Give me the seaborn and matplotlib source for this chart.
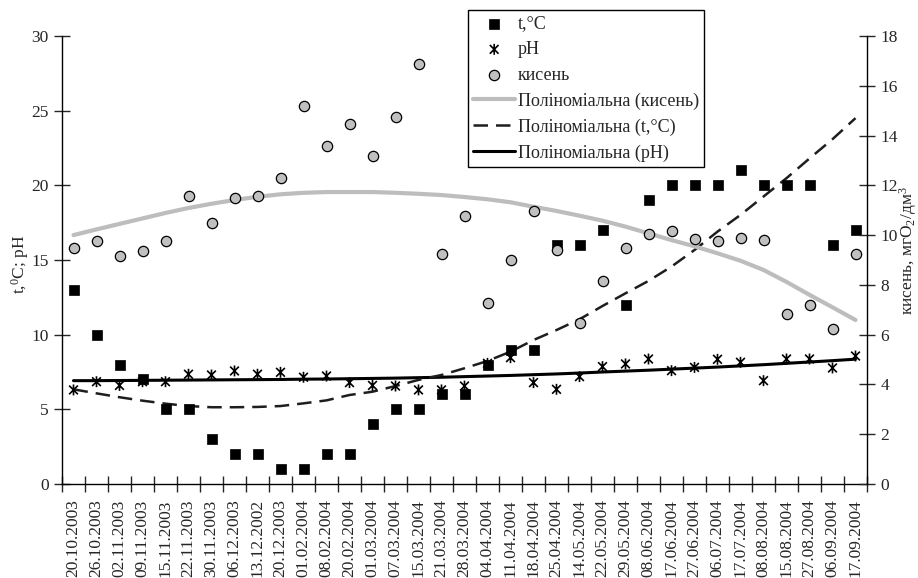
import numpy as np
import pandas as pd
import matplotlib
matplotlib.use('Agg')
import matplotlib.pyplot as plt
from matplotlib.path import Path
import seaborn as sns

# дати відбору проб
dates = ['20.10.2003', '26.10.2003', '02.11.2003', '09.11.2003', '15.11.2003',
         '22.11.2003', '30.11.2003', '06.12.2003', '13.12.2002', '20.12.2003',
         '01.02.2004', '08.02.2004', '20.02.2004', '01.03.2004', '07.03.2004',
         '15.03.2004', '21.03.2004', '28.03.2004', '04.04.2004', '11.04.2004',
         '18.04.2004', '25.04.2004', '14.05.2004', '22.05.2004', '29.05.2004',
         '08.06.2004', '17.06.2004', '27.06.2004', '06.07.2004', '17.07.2004',
         '08.08.2004', '15.08.2004', '27.08.2004', '06.09.2004', '17.09.2004']

# температура, °C
temp = [13, 10, 8, 7, 5, 5, 3, 2, 2, 1, 1, 2, 2, 4, 5, 5, 6, 6, 8, 9, 9,
        16, 16, 17, 12, 19, 20, 20, 20, 21, 20, 20, 20, 16, 17]

# pH
ph = [6.3, 6.85, 6.6, 6.85, 6.85, 7.35, 7.3, 7.57, 7.35, 7.48, 7.15, 7.23,
      6.79, 6.6, 6.56, 6.3, 6.3, 6.56, 8.08, 8.46, 6.79, 6.34, 7.19, 7.86,
      8.04, 8.37, 7.59, 7.81, 8.35, 8.15, 6.92, 8.37, 8.37, 7.77, 8.57]

# кисень, мгО2/дм3
oxygen = [9.47, 9.78, 9.17, 9.38, 9.78, 11.59, 10.49, 11.48, 11.59, 12.28,
          15.19, 13.58, 14.48, 13.19, 14.75, 16.89, 9.26, 10.78, 7.28, 9.0,
          10.98, 9.4, 6.48, 8.16, 9.47, 10.04, 10.16, 9.86, 9.78, 9.9, 9.8,
          6.82, 7.19, 6.23, 9.24]

# лінії тренду (поліноміальні)
temp_trend = [6.34, 6.07, 5.81, 5.58, 5.38, 5.22, 5.14, 5.14, 5.16, 5.22, 5.4,
              5.6, 5.96, 6.18, 6.56, 6.97, 7.3, 7.75, 8.24, 8.86, 9.64, 10.31,
              11.03, 11.92, 12.77, 13.6, 14.56, 15.67, 16.9, 18.02, 19.25,
              20.48, 21.8, 23.09, 24.5]
ph_trend = [6.92, 6.92, 6.93, 6.94, 6.95, 6.96, 6.97, 6.98, 6.99, 7.0, 7.02,
            7.03, 7.05, 7.07, 7.09, 7.12, 7.15, 7.19, 7.23, 7.27, 7.32, 7.37,
            7.43, 7.5, 7.56, 7.62, 7.69, 7.76, 7.83, 7.91, 7.99, 8.08, 8.17,
            8.26, 8.36]
oxygen_trend = [10.0, 10.23, 10.45, 10.67, 10.89, 11.09, 11.26, 11.41, 11.54,
                11.64, 11.7, 11.73, 11.73, 11.73, 11.7, 11.66, 11.61, 11.53,
                11.44, 11.32, 11.14, 10.97, 10.78, 10.58, 10.34, 10.07, 9.8,
                9.55, 9.27, 8.97, 8.6, 8.12, 7.6, 7.1, 6.59]

df = pd.DataFrame({'x': np.arange(len(dates)), 'temp': temp, 'ph': ph, 'oxygen': oxygen,
                   'temp_trend': temp_trend, 'ph_trend': ph_trend,
                   'oxygen_trend': oxygen_trend})

sns.set_style('ticks')
plt.rcParams['font.family'] = ['Liberation Serif', 'DejaVu Serif']
plt.rcParams['mathtext.fontset'] = 'custom'
plt.rcParams['mathtext.rm'] = 'Liberation Serif'
plt.rcParams['mathtext.it'] = 'Liberation Serif:italic'
plt.rcParams['mathtext.default'] = 'regular'
fs = 12.5

# маркер-зірочка як в Excel
star = Path([(-1, -1), (1, 1), (-1, 1), (1, -1), (0, -1.25), (0, 1.25)],
            [Path.MOVETO, Path.LINETO, Path.MOVETO, Path.LINETO, Path.MOVETO, Path.LINETO])

fig = plt.figure(figsize=(9.18, 5.78), dpi=100)
ax = fig.add_axes([62 / 918, 1 - 484 / 578, 805 / 918, 448 / 578])
ax2 = ax.twinx()

sns.lineplot(data=df, x='x', y='ph_trend', ax=ax, color='black', lw=2.2,
             label='Поліноміальна (pH)', legend=False)
sns.lineplot(data=df, x='x', y='temp_trend', ax=ax, color='#1e1e1e', lw=1.8,
             dashes=(5.8, 3.2), label='Поліноміальна (t,°C)', legend=False)
sns.scatterplot(data=df, x='x', y='temp', ax=ax, marker='s', s=48, color='black',
                edgecolor='black', linewidth=0.5, label='t,°C', legend=False, zorder=3)
sns.scatterplot(data=df, x='x', y='ph', ax=ax, marker=star, s=62, facecolor='none',
                edgecolor='black', linewidth=1.2, label='pH', legend=False, zorder=3)

sns.lineplot(data=df, x='x', y='oxygen_trend', ax=ax2, color='#bdbdbd', lw=3,
             label='Поліноміальна (кисень)', legend=False)
sns.scatterplot(data=df, x='x', y='oxygen', ax=ax2, marker='o', s=55, color='#c0c0c0',
                edgecolor='black', linewidth=0.9, label='кисень', legend=False, zorder=3)

ax.set_xlim(-0.5, len(dates) - 0.5)
ax.set_ylim(0, 30)
ax2.set_ylim(0, 18)
ax.set_yticks(range(0, 31, 5))
ax2.set_yticks(range(0, 19, 2))
ax.set_xticks(range(len(dates)))
ax.set_xticklabels(dates, rotation=90, fontsize=fs)
ax.set_xticks(np.arange(-0.5, len(dates), 1), minor=True)
ax.tick_params(axis='x', which='major', length=0, pad=11)
ax.tick_params(axis='x', which='minor', direction='inout', length=12, width=1)
ax.tick_params(axis='y', direction='inout', length=12, width=1, labelsize=fs)
ax2.tick_params(axis='y', direction='inout', length=12, width=1, labelsize=fs)

for a in (ax, ax2):
    a.spines['top'].set_visible(False)
    for s in a.spines.values():
        s.set_linewidth(1)
        s.set_color('black')
ax.spines['right'].set_visible(False)
ax2.spines['left'].set_visible(False)
ax2.spines['bottom'].set_visible(False)

ax.set_xlabel('')
ax.set_ylabel('t,$^{0}$C; pH', fontsize=fs)
ax.yaxis.set_label_coords(-0.039, 0.49)
ax2.set_ylabel('кисень, мгО$_{2}$/дм$^{3}$', fontsize=fs)
ax2.yaxis.set_label_coords(1.037, 0.52)

h1, l1 = ax.get_legend_handles_labels()
h2, l2 = ax2.get_legend_handles_labels()
hd = dict(zip(l1 + l2, h1 + h2))
order = ['t,°C', 'pH', 'кисень', 'Поліноміальна (кисень)', 'Поліноміальна (t,°C)', 'Поліноміальна (pH)']
leg = fig.legend([hd[k] for k in order], order, loc='upper left',
                 bbox_to_anchor=(468 / 918, 1 - 10 / 578), fontsize=13,
                 frameon=True, fancybox=False, framealpha=1, edgecolor='black',
                 borderpad=0.3, labelspacing=0.48, handlelength=2.3, handletextpad=0.15,
                 borderaxespad=0)
leg.get_frame().set_linewidth(1)

fig.savefig('out.png', dpi=100)
